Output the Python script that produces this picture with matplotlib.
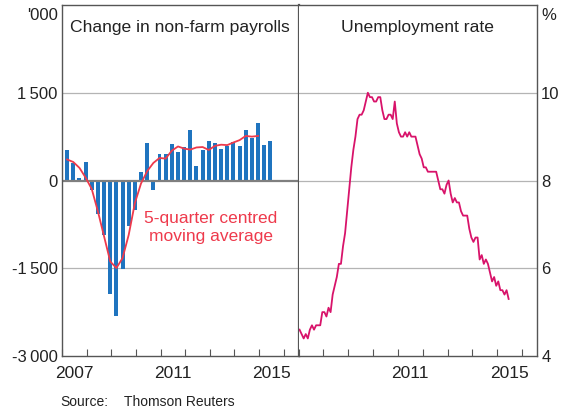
import numpy as np
import matplotlib as mpl
mpl.use("Agg")
import matplotlib.pyplot as plt

plt.rcParams['font.family'] = ['Liberation Sans', 'DejaVu Sans']

# quarterly change in non-farm payrolls, '000, 2007Q1 - 2015Q2
payroll_chg = [518, 300, 42, 308, -160, -575, -928, -1942, -2324, -1514, -774, -501,
               137, 644, -160, 461, 456, 621, 484, 570, 855, 245, 518, 678,
               644, 541, 598, 661, 587, 860, 723, 980, 604, 672]
# 5-quarter centred moving average, 2007Q1 - 2014Q4
payroll_ma = [359, 316, 216, 50, -147, -530, -957, -1384, -1497, -1326, -928, -386,
              -50, 160, 300, 385, 375, 510, 582, 545, 528, 565, 572, 522,
              592, 612, 605, 650, 690, 762, 750, 762]
# unemployment rate, %, monthly Jan 2007 - Jun 2015
unemp = [4.6, 4.5, 4.4, 4.5, 4.4, 4.6, 4.7, 4.6, 4.7, 4.7, 4.7, 5.0,
         5.0, 4.9, 5.1, 5.0, 5.4, 5.6, 5.8, 6.1, 6.1, 6.5, 6.8, 7.3,
         7.8, 8.3, 8.7, 9.0, 9.4, 9.5, 9.5, 9.6, 9.8, 10.0, 9.9, 9.9,
         9.8, 9.8, 9.9, 9.9, 9.6, 9.4, 9.4, 9.5, 9.5, 9.4, 9.8, 9.3,
         9.1, 9.0, 9.0, 9.1, 9.0, 9.1, 9.0, 9.0, 9.0, 8.8, 8.6, 8.5,
         8.3, 8.3, 8.2, 8.2, 8.2, 8.2, 8.2, 8.0, 7.8, 7.8, 7.7, 7.9,
         8.0, 7.7, 7.5, 7.6, 7.5, 7.5, 7.3, 7.2, 7.2, 7.2, 6.9, 6.7,
         6.6, 6.7, 6.7, 6.2, 6.3, 6.1, 6.2, 6.1, 5.9, 5.7, 5.8, 5.6,
         5.7, 5.5, 5.5, 5.4, 5.5, 5.3]

left_yticks = [-3000, -1500, 0, 1500]
left_ylabels = ['-3\u2009000', '-1\u2009500', '0', '1\u2009500']
right_yticks = [4, 6, 8, 10]
right_ylabels = ['4', '6', '8', '10']
left_years = [2007, 2011, 2015]
right_years = [2011, 2015]

BLUE = '#1f74bf'
RED = '#ee3a4c'
MAG = '#d8136a'
TXT = '#222222'
GRID = '#b4b4b4'
SPINE = '#555555'

# x positions: middle of the last month of each quarter / each month
qx = np.array([2007 + (3 * (i % 4) + 2.5) / 12 + i // 4 for i in range(len(payroll_chg))])
mx = np.array([2007 + (i + 0.5) / 12 for i in range(len(unemp))])

fig = plt.figure(figsize=(5.66, 4.11), dpi=100)
ax1 = fig.add_axes([62 / 566, 55 / 411, 236.5 / 566, 351 / 411])
ax2 = fig.add_axes([298.5 / 566, 55 / 411, 238.5 / 566, 351 / 411])

xlim = (2007, 2016.6)

for ax in (ax1, ax2):
    ax.set_xlim(*xlim)
    ax.set_xticks(range(2007, 2017))
    ax.tick_params(axis='x', which='major', direction='in', length=5, width=0.8,
                   color=SPINE, labelbottom=False)
    ax.tick_params(axis='x', which='minor', length=0, labelsize=12.5, colors=TXT, pad=7)
    for s in ax.spines.values():
        s.set_color(SPINE)
        s.set_linewidth(1.0)

# left panel
ax1.set_ylim(-3000, 3000)
for v in [-1500, 1500]:
    ax1.axhline(v, color=GRID, lw=0.9, zorder=0)
ax1.bar(qx, payroll_chg, width=0.16, color=BLUE, zorder=2)
ax1.plot(qx[:len(payroll_ma)], payroll_ma, color=RED, lw=1.3, zorder=3)
ax1.axhline(0, color='#7f7f7f', lw=1.6, zorder=2.5)
ax1.set_xticks([y + 0.5 for y in left_years], [str(y) for y in left_years], minor=True)
ax1.set_yticks(left_yticks, left_ylabels)
ax1.tick_params(axis='y', length=0, labelsize=12, colors=TXT, pad=3)
ax1.spines['right'].set_linewidth(1.6)
ax1.text(0.5, 0.958, 'Change in non-farm payrolls', transform=ax1.transAxes,
         ha='center', va='top', fontsize=12.6, color=TXT)
ax1.text(2013.05, -800, '5-quarter centred\nmoving average', ha='center', va='center',
         fontsize=12.5, color=RED, linespacing=1.25)
ax1.text(-0.018, 1 - 10 / 351, "'000", transform=ax1.transAxes, ha='right', va='center',
         fontsize=12, color=TXT)

# right panel
ax2.set_ylim(4, 12)
for v in [6, 8, 10]:
    ax2.axhline(v, color=GRID, lw=0.9, zorder=0)
ax2.plot(mx, unemp, color=MAG, lw=1.3, zorder=3)
ax2.set_xticks([y + 0.5 for y in right_years], [str(y) for y in right_years], minor=True)
ax2.set_yticks(right_yticks, right_ylabels)
ax2.yaxis.tick_right()
ax2.tick_params(axis='y', length=0, labelsize=12, colors=TXT, pad=3)
ax2.spines['left'].set_visible(False)
ax2.text(0.5, 0.958, 'Unemployment rate', transform=ax2.transAxes,
         ha='center', va='top', fontsize=12.6, color=TXT)
ax2.text(1.018, 1 - 10 / 351, '%', transform=ax2.transAxes, ha='left', va='center',
         fontsize=12, color=TXT)

fig.text(60 / 566, 1 - 402 / 411, 'Source:', fontsize=10, color=TXT, va='center')
fig.text(124 / 566, 1 - 402 / 411, 'Thomson Reuters', fontsize=10, color=TXT, va='center')

fig.savefig('out.png', dpi=100)
